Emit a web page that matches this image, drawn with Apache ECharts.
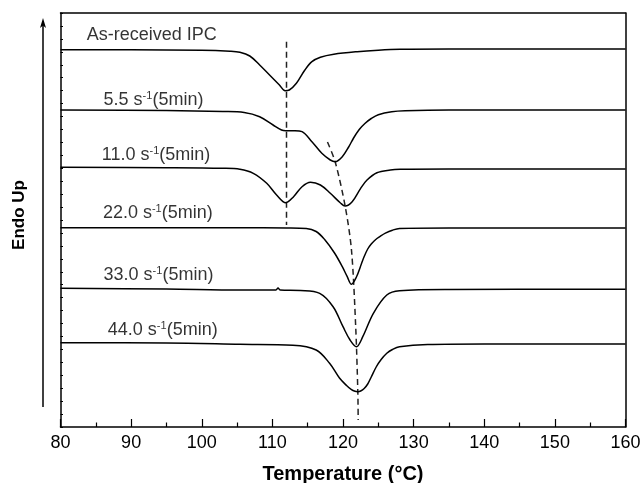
<!DOCTYPE html>
<html><head><meta charset="utf-8">
<script src="https://cdn.jsdelivr.net/npm/echarts@6/dist/echarts.min.js"></script>
<style>html,body{margin:0;padding:0;background:#fff}#c{width:641px;height:483px}</style>
</head><body><div id="c"></div>
<script>
// x: temperature (°C); y: heat flow, arbitrary units (endo up, curves offset)
const xMin = 80, xMax = 160, xStep = 10;
const yMin = 0, yMax = 414, yStep = 12.9375;

const curveLabels = ['As-received IPC', '5.5 s-1(5min)', '11.0 s-1(5min)', '22.0 s-1(5min)', '33.0 s-1(5min)', '44.0 s-1(5min)'];

const asReceived = [[80,377.3],[90,377.2],[100,376.8],[104,375.8],[105.4,374.7],[106.8,371],[108.2,362],[109.6,352],[111,342],[111.8,336.3],[112.4,337],[113.4,343.7],[114.6,357],[115.6,365.3],[116.8,369.7],[118.7,372.7],[122,375.3],[125,376.8],[128.1,377.7],[135,378],[145,378],[160,378]];
const rate5_5 = [[80,317],[95,316.5],[103,315.5],[106,314.5],[108.2,310.3],[110.1,302],[111.3,297],[111.9,296.3],[113.2,296.3],[114.2,295.3],[115.6,285.3],[117,273.7],[118.2,267],[118.9,265.3],[119.9,270.3],[120.8,280],[121.5,289],[122.3,297.5],[123.1,303.5],[124,308.5],[125,312.3],[126.9,315.3],[128.8,316.3],[135,317],[160,317]];
const rate11_0 = [[80,259.7],[95,259.3],[103,258.7],[105.4,257.7],[107.3,253.7],[109.2,243.7],[110.6,232],[111.9,224.3],[113,230.3],[114.2,240.3],[115.4,244.7],[116.8,242],[118.2,233.7],[119.6,224.3],[120.3,221],[121.3,225.3],[122.5,238.7],[123.4,247],[124.8,254.3],[126.7,257],[128.1,257.7],[135,258],[160,258]];
const rate22_0 = [[80,199.3],[95,199.3],[105.4,199.3],[112,199],[114.8,198.5],[116.2,195.5],[117.4,187.5],[118.8,174],[119.9,160.3],[120.6,150.3],[121.2,142.7],[121.9,150],[122.6,163],[123,170.5],[123.5,178],[124,183],[124.6,187.3],[125.2,190.3],[126,193.8],[127,196.8],[128,198.5],[135,199],[160,199]];
const rate33_0 = [[80,138.7],[95,138],[105.4,137],[110.5,137],[110.8,139],[111.1,137],[114,136.5],[116.7,133.7],[118.6,120.3],[120,100.3],[121,87],[121.9,80.3],[122.8,90.3],[124.3,113.7],[126.2,132],[128,136.3],[135,137.5],[160,137.7]];
const rate44_0 = [[80,84.3],[95,84],[105.4,82.7],[112.9,81.7],[116.2,77],[118.1,63.7],[119.5,49],[120.5,41.5],[121.2,37.3],[121.7,35.7],[122.1,35.3],[122.5,36],[123,38.5],[123.5,43],[124,50],[124.7,60],[125.4,67.5],[126.2,73.7],[127,77.5],[128,80.3],[132,82.5],[140,83],[160,83]];

const peakLine1 = [[112,385.3],[112,202]];
const peakLine2 = [[117.8,285],[118.9,265],[120.3,221],[121.2,177],[121.8,100],[122.1,35],[122.15,7]];

// label anchors (left-middle of each curve label), in data units
const labelAnchors = [[83.7,392],[86.1,327],[85.85,272],[86.0,213.7],[86.1,152],[86.7,97]];

const FONT = '"Liberation Sans", Arial, sans-serif';
const curves = [asReceived, rate5_5, rate11_0, rate22_0, rate33_0, rate44_0];

function labelRich(name) {
  const m = name.match(/^(.*) s-1(.*)$/);
  if (!m) return '{a|' + name + '}';
  return '{a|' + m[1] + ' s}{sup|-1}{a|' + m[2] + '}';
}

const series = curves.map((d, i) => ({
  type: 'line', name: curveLabels[i], data: d, showSymbol: false, smooth: 0.35,
  lineStyle: { color: '#000', width: 1.5 }, silent: true, z: 3
}));
series.push({ type: 'line', data: peakLine1, showSymbol: false,
  lineStyle: { color: '#222', width: 1.5, type: [6, 4] }, z: 2 });
series.push({ type: 'line', data: peakLine2, showSymbol: false, smooth: 0.3,
  lineStyle: { color: '#222', width: 1.5, type: [6, 4] }, z: 2 });
series.push({
  type: 'scatter', symbolSize: 0,
  data: labelAnchors.map((p, i) => ({ value: p, name: curveLabels[i] })),
  label: {
    show: true, position: 'right', distance: 0,
    formatter: p => labelRich(p.name),
    rich: {
      a: { fontFamily: FONT, fontSize: 18, color: '#000', lineHeight: 20 },
      sup: { fontFamily: FONT, fontSize: 11, color: '#000', lineHeight: 12, verticalAlign: 'top' }
    }
  }, z: 4
});

const chart = echarts.init(document.getElementById('c'), null, { renderer: 'canvas' });
chart.setOption({
  animation: false,
  backgroundColor: '#fff',
  grid: { left: 60.5, right: 15.5, top: 13, bottom: 56, outerBoundsMode: 'none', containLabel: false },
  xAxis: [{
    type: 'value', min: xMin, max: xMax, interval: xStep,
    name: 'Temperature (°C)', nameLocation: 'middle', nameGap: 37,
    nameTextStyle: { fontFamily: FONT, fontSize: 20, fontWeight: 'bold', color: '#000' },
    axisLine: { onZero: false, lineStyle: { color: '#000', width: 1.5 } },
    axisTick: { inside: true, length: 8, lineStyle: { color: '#000', width: 1.2 } },
    minorTick: { show: true, splitNumber: 2, length: 4.5, lineStyle: { color: '#000', width: 1.2 } },
    axisLabel: { fontFamily: FONT, fontSize: 18, color: '#000', margin: 7 },
    splitLine: { show: false }
  }, {
    type: 'value', position: 'top', min: xMin, max: xMax,
    axisLine: { show: true, onZero: false, lineStyle: { color: '#000', width: 1.5 } },
    axisTick: { show: false }, axisLabel: { show: false }, splitLine: { show: false }
  }],
  yAxis: [{
    type: 'value', min: yMin, max: yMax, interval: yStep,
    name: 'Endo Up', nameLocation: 'middle', nameGap: 32.5, nameRotate: 90,
    nameTextStyle: { fontFamily: FONT, fontSize: 17, fontWeight: 'bold', color: '#000', padding: [0, 0, 0, 10] },
    axisLine: { show: true, onZero: false, lineStyle: { color: '#000', width: 1.5 } },
    axisTick: { inside: true, length: 2.5, lineStyle: { color: '#000', width: 1 } },
    axisLabel: { show: false }, splitLine: { show: false }
  }, {
    type: 'value', position: 'right', min: yMin, max: yMax,
    axisLine: { show: true, onZero: false, lineStyle: { color: '#000', width: 1.5 } },
    axisTick: { show: false }, axisLabel: { show: false }, splitLine: { show: false }
  }],
  graphic: [{
    type: 'group', silent: true,
    children: [
      { type: 'line', shape: { x1: 43, y1: 407, x2: 43, y2: 24 }, style: { stroke: '#000', lineWidth: 1.5 } },
      { type: 'polygon', shape: { points: [[43, 18], [40, 28], [43, 25.5], [46, 28]] }, style: { fill: '#000' } }
    ]
  }],
  series: series
});
</script>
</body></html>
